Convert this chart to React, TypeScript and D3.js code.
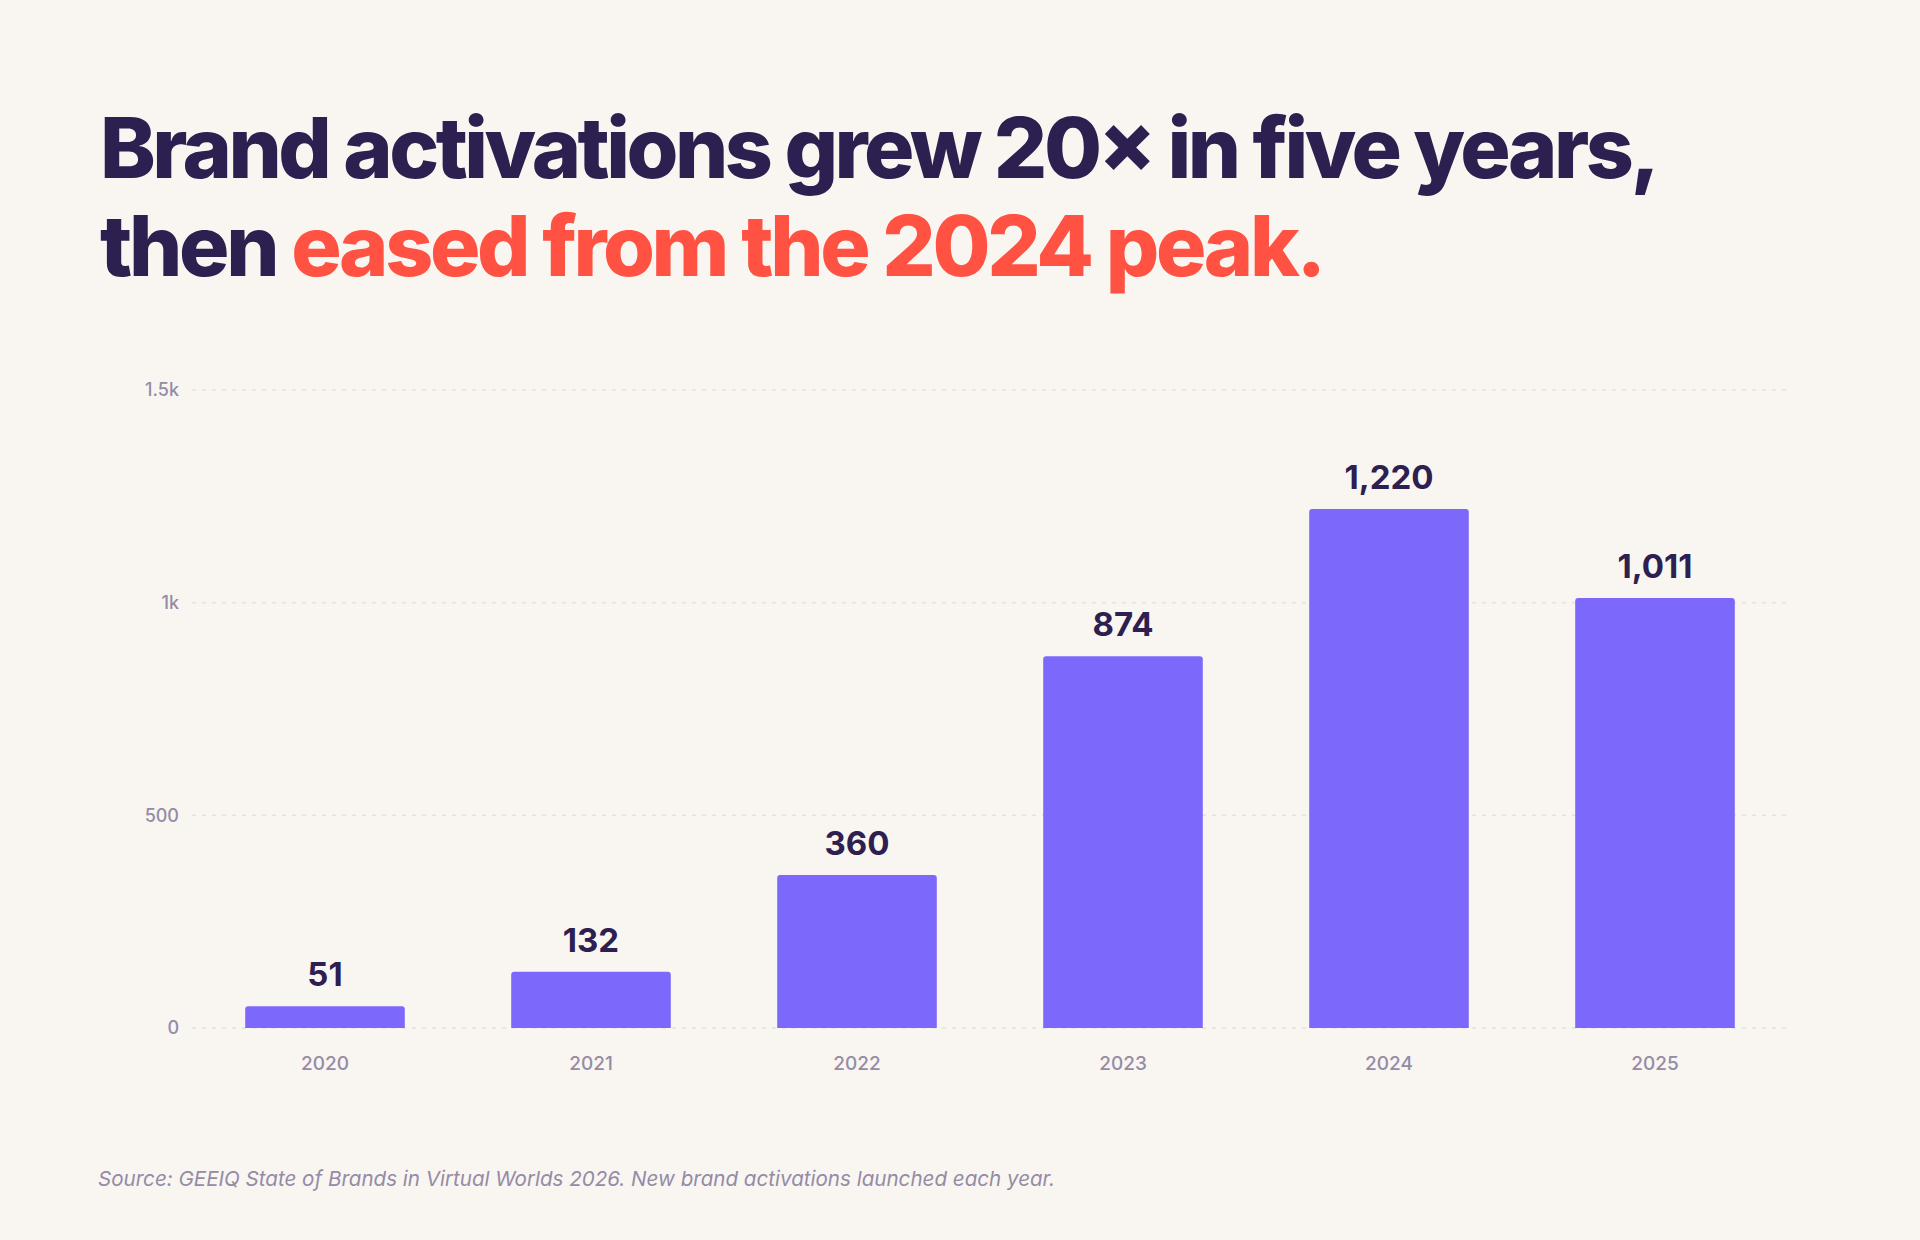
import * as d3 from 'd3'

const years = ['2020', '2021', '2022', '2023', '2024', '2025']
const activations = [51, 132, 360, 874, 1220, 1011]
const yTicks = [0, 500, 1000, 1500]
const yTickLabels = ['0', '500', '1k', '1.5k']

const W = 1920
const H = 1240
const BG = '#f9f6f1'
const INK = '#2d2050'
const ACCENT = '#ff5243'
const BAR = '#7c69fb'
const MUTED = '#948ba6'
const GRID = '#e7e1dc'
const FONT = 'Inter, "Noto Sans", sans-serif'

const PLOT_LEFT = 192
const PLOT_RIGHT = 1788
const PLOT_TOP = 390
const PLOT_BOTTOM = 1028

function topRoundedBar(x: number, y: number, w: number, h: number, r: number): string {
  const rr = Math.min(r, h / 2, w / 2)
  const p = d3.path()
  p.moveTo(x, y + h)
  p.lineTo(x, y + rr)
  p.arcTo(x, y, x + rr, y, rr)
  p.lineTo(x + w - rr, y)
  p.arcTo(x + w, y, x + w, y + rr, rr)
  p.lineTo(x + w, y + h)
  p.closePath()
  return p.toString()
}

export default function App() {
  const x = d3
    .scaleBand<string>()
    .domain(years)
    .range([PLOT_LEFT, PLOT_RIGHT])
    .paddingInner(0.4)
    .paddingOuter(0.2)

  const y = d3.scaleLinear().domain([0, 1500]).range([PLOT_BOTTOM, PLOT_TOP])
  const fmt = d3.format(',')

  return (
    <svg
      width={W}
      height={H}
      viewBox={`0 0 ${W} ${H}`}
      style={{ position: 'absolute', left: 0, top: 0, display: 'block' }}
      fontFamily={FONT}
    >
      <rect width={W} height={H} fill={BG} />

      {/* Headline */}
      <text
        x={100}
        y={178}
        fontSize={84}
        fontWeight={800}
        fill={INK}
        textLength={1560}
        lengthAdjust="spacing"
      >
        Brand activations grew 20× in five years,
      </text>
      <text
        x={100}
        y={276}
        fontSize={84}
        fontWeight={800}
        fill={INK}
        textLength={1226}
        lengthAdjust="spacing"
      >
        then <tspan fill={ACCENT}>eased from the 2024 peak.</tspan>
      </text>

      {/* Grid + y axis */}
      {yTicks.map((t, i) => (
        <g key={t}>
          <line
            x1={PLOT_LEFT}
            x2={PLOT_RIGHT}
            y1={y(t)}
            y2={y(t)}
            stroke={GRID}
            strokeWidth={1.5}
            strokeDasharray="4 6"
          />
          <text
            x={179}
            y={y(t)}
            dy="0.35em"
            textAnchor="end"
            fontSize={18}
            fontWeight={500}
            fill={MUTED}
          >
            {yTickLabels[i]}
          </text>
        </g>
      ))}

      {/* Bars */}
      {years.map((yr, i) => {
        const bx = x(yr) ?? 0
        const bw = x.bandwidth()
        const top = y(activations[i])
        return (
          <g key={yr}>
            <path d={topRoundedBar(bx, top, bw, PLOT_BOTTOM - top, 3)} fill={BAR} />
            <text
              x={bx + bw / 2}
              y={top - 20}
              textAnchor="middle"
              fontSize={33}
              fontWeight={700}
              fill={INK}
            >
              {fmt(activations[i])}
            </text>
            <text
              x={bx + bw / 2}
              y={1070}
              textAnchor="middle"
              fontSize={19}
              fontWeight={500}
              fill={MUTED}
            >
              {yr}
            </text>
          </g>
        )
      })}

      {/* Source note */}
      <text
        x={98}
        y={1186}
        fontSize={20.5}
        fontStyle="italic"
        fill={MUTED}
        textLength={957}
        lengthAdjust="spacingAndGlyphs"
      >
        Source: GEEIQ State of Brands in Virtual Worlds 2026. New brand activations launched each year.
      </text>
    </svg>
  )
}
